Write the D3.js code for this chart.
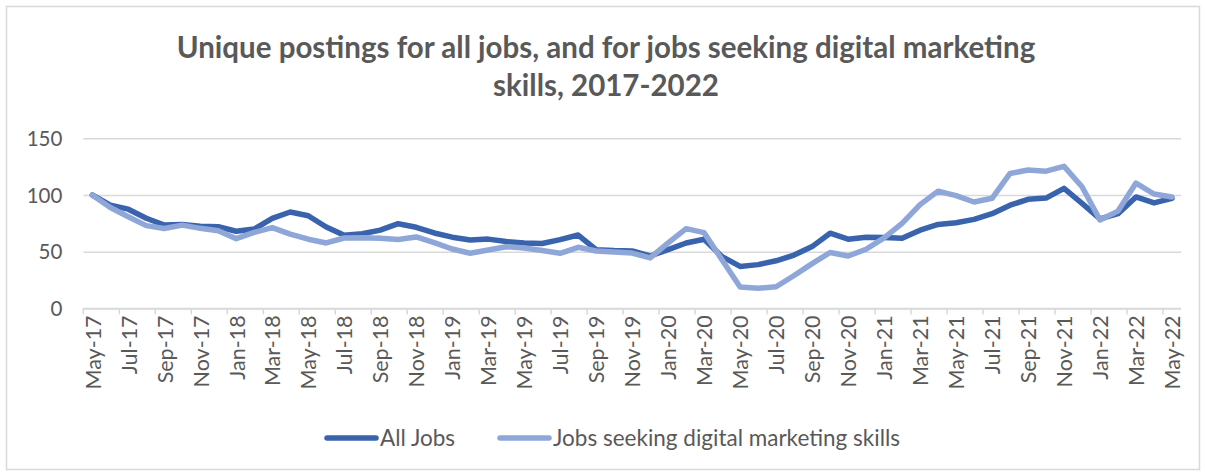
<!DOCTYPE html>
<html>
<head>
<meta charset="utf-8">
<script src="https://cdn.jsdelivr.net/npm/d3@7"></script>
<style>
  html, body { margin: 0; padding: 0; background: #ffffff; }
  svg { display: block; }
  text { font-family: Lato, "Open Sans", sans-serif; }
</style>
</head>
<body>
<svg id="chart" width="1205" height="473"></svg>
<script>
// Monthly categories, May 2017 to May 2022
const months = [
  "May-17","Jun-17","Jul-17","Aug-17","Sep-17","Oct-17","Nov-17","Dec-17",
  "Jan-18","Feb-18","Mar-18","Apr-18","May-18","Jun-18","Jul-18","Aug-18","Sep-18","Oct-18","Nov-18","Dec-18",
  "Jan-19","Feb-19","Mar-19","Apr-19","May-19","Jun-19","Jul-19","Aug-19","Sep-19","Oct-19","Nov-19","Dec-19",
  "Jan-20","Feb-20","Mar-20","Apr-20","May-20","Jun-20","Jul-20","Aug-20","Sep-20","Oct-20","Nov-20","Dec-20",
  "Jan-21","Feb-21","Mar-21","Apr-21","May-21","Jun-21","Jul-21","Aug-21","Sep-21","Oct-21","Nov-21","Dec-21",
  "Jan-22","Feb-22","Mar-22","Apr-22","May-22"
];

// Index of unique postings (May 2017 = 100)
const allJobs = [
  100, 91, 87.5, 79.5, 73.5, 74, 72.5, 72,
  68, 70, 79.4, 85, 81.7, 71.8, 64.5, 65.8, 69, 74.7, 71.5, 66.5,
  62.8, 60.3, 61.1, 59, 57.6, 57.2, 60.6, 64.7, 51.8, 51, 50.7, 46.2,
  51.8, 57.7, 61, 45.6, 37, 38.6, 42, 47, 54.5, 66.3, 61, 62.7,
  62.5, 61.8, 69, 74, 75.5, 78.5, 83.5, 91, 96.2, 97.3, 105.9, 92.7,
  79, 83.5, 98.3, 93, 97.1
];

const digitalMarketing = [
  100, 89, 80.8, 73, 70.5, 73.4, 70.6, 68.5,
  61.5, 67, 71.3, 65.5, 61, 57.7, 62.1, 62.4, 61.8, 60.8, 63, 58,
  52.4, 48.6, 51.5, 54.4, 53.2, 51, 48.6, 53.9, 50.6, 49.8, 48.8, 44.5,
  57.7, 70.3, 66.8, 42.7, 18.8, 17.7, 19.1, 29, 39.5, 49.3, 46.2, 52.2,
  62.2, 75, 91.5, 103.4, 99.5, 93.8, 97.1, 119, 122, 121, 125.3, 107.3,
  78, 85.8, 110.5, 100.9, 98.3
];

const yTicks = [0, 50, 100, 150];

const seriesNames = ["All Jobs", "Jobs seeking digital marketing skills"];
const titleLines = [
  "Unique postings for all jobs, and for jobs seeking digital marketing",
  "skills, 2017-2022"
];

const colors = { all: "#3A63AE", digital: "#8FA7D8", text: "#595959", grid: "#D9D9D9" };

const svg = d3.select("#chart");

// Chart frame
svg.append("rect")
  .attr("x", 6.5).attr("y", 6.5)
  .attr("width", 1193).attr("height", 463)
  .attr("fill", "#ffffff")
  .attr("stroke", colors.grid)
  .attr("stroke-width", 1.5);

// Plot area
const plot = { left: 83.3, right: 1181, top: 138.3, bottom: 308.4 };

const x = d3.scalePoint()
  .domain(months)
  .range([plot.left, plot.right])
  .padding(0.5);

const y = d3.scaleLinear()
  .domain([0, 150])
  .range([plot.bottom, plot.top]);

// Horizontal gridlines and value labels
const yAxis = d3.axisLeft(y)
  .tickValues(yTicks)
  .tickSize(-(plot.right - plot.left))
  .tickPadding(21);

const yG = svg.append("g")
  .attr("transform", `translate(${plot.left},0)`)
  .call(yAxis);
yG.select(".domain").remove();
yG.selectAll(".tick line")
  .attr("stroke", colors.grid)
  .attr("stroke-width", 1.5);
yG.selectAll(".tick text")
  .attr("fill", colors.text)
  .style("font-size", "20.5px")
  .attr("dy", "0.35em");

// Category axis: labels on every other month, ticks between category pairs
const step = x.step();
const xAxis = d3.axisBottom(x)
  .tickValues(months.filter((d, i) => i % 2 === 0))
  .tickSize(0)
  .tickPadding(0);

const xG = svg.append("g")
  .attr("transform", `translate(0,${plot.bottom})`)
  .call(xAxis);
xG.select(".domain").remove();
xG.selectAll(".tick text")
  .attr("fill", colors.text)
  .style("font-size", "21.5px")
  .attr("text-anchor", "end")
  .attr("transform", "translate(0,7) rotate(-90)")
  .attr("x", 0)
  .attr("y", 0)
  .attr("dy", "0.36em");

svg.append("line")
  .attr("x1", plot.left).attr("x2", plot.right)
  .attr("y1", plot.bottom).attr("y2", plot.bottom)
  .attr("stroke", colors.grid)
  .attr("stroke-width", 1.5);

svg.append("g")
  .selectAll("line")
  .data(months.filter((d, i) => i % 2 === 0))
  .join("line")
  .attr("x1", d => x(d) - step / 2)
  .attr("x2", d => x(d) - step / 2)
  .attr("y1", plot.bottom)
  .attr("y2", plot.bottom + 6)
  .attr("stroke", colors.grid)
  .attr("stroke-width", 1.5);

// Series lines
const line = d3.line()
  .x((d, i) => x(months[i]))
  .y(d => y(d));

svg.append("path")
  .datum(allJobs)
  .attr("d", line)
  .attr("fill", "none")
  .attr("stroke", colors.all)
  .attr("stroke-width", 5.5)
  .attr("stroke-linejoin", "round")
  .attr("stroke-linecap", "round");

svg.append("path")
  .datum(digitalMarketing)
  .attr("d", line)
  .attr("fill", "none")
  .attr("stroke", colors.digital)
  .attr("stroke-width", 5.5)
  .attr("stroke-linejoin", "round")
  .attr("stroke-linecap", "round");

// Title
const title = svg.append("text")
  .attr("text-anchor", "middle")
  .attr("fill", colors.text)
  .style("font-size", "29.5px")
  .style("font-weight", "bold");
title.selectAll("tspan")
  .data(titleLines)
  .join("tspan")
  .attr("x", 606)
  .attr("y", (d, i) => 58 + i * 38)
  .text(d => d);

// Legend
const legendItems = [
  { name: seriesNames[0], color: colors.all, x: 325 },
  { name: seriesNames[1], color: colors.digital, x: 498 }
];
const lg = svg.append("g").selectAll("g")
  .data(legendItems)
  .join("g")
  .attr("transform", d => `translate(${d.x},438)`);
lg.append("line")
  .attr("x1", 2).attr("x2", 51)
  .attr("y1", 0).attr("y2", 0)
  .attr("stroke", d => d.color)
  .attr("stroke-width", 5.5)
  .attr("stroke-linecap", "round");
lg.append("text")
  .attr("x", 55)
  .attr("y", 0)
  .attr("dy", "0.35em")
  .attr("fill", colors.text)
  .style("font-size", "22.5px")
  .text(d => d.name);
</script>
</body>
</html>
